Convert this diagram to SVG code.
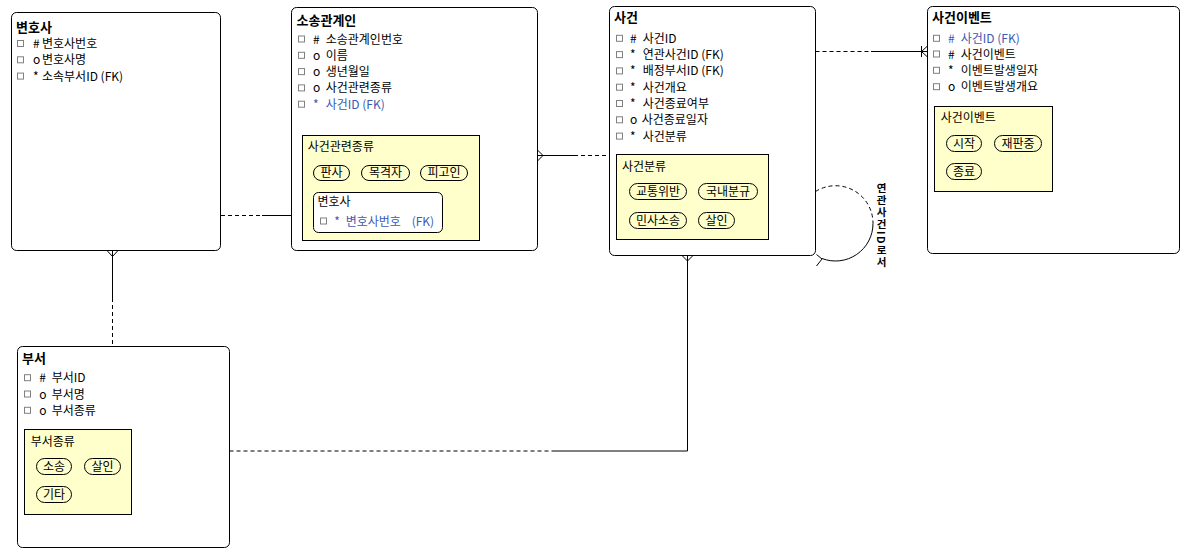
<svg xmlns="http://www.w3.org/2000/svg" width="1188" height="558" viewBox="0 0 1188 558">
<style>
text{font-family:"Noto Sans CJK KR","Noto Sans",sans-serif;font-size:12px;fill:#000}
.t{font-weight:bold;font-size:13px}
.fk{fill:#3C5AB4}
.box{fill:#fff;stroke:#000;stroke-width:1}
.yel{fill:#FFFFCC;stroke:#000;stroke-width:1}
.pill{fill:none;stroke:#000;stroke-width:1}
.cb{fill:#fff;stroke:#808080;stroke-width:1}
.ln{fill:none;stroke:#000;stroke-width:1}
.dash{stroke-dasharray:4,3}
.pt{text-anchor:middle}
.vt{writing-mode:vertical-rl;font-size:10.5px;font-weight:bold;letter-spacing:1.5px}
</style>
<rect width="1188" height="558" fill="#fff"/>
<g id="connectors">
  <path class="ln dash" d="M221,215.5 H262"/>
  <path class="ln" d="M262,215.5 H313.5 M313.5,210.5 L308,215.5 L313.5,220.5"/>
  <path class="ln" d="M537.5,150 L543,155.5 L537.5,161 M537.5,155.5 H574"/>
  <path class="ln dash" d="M574,155.5 H609.5"/>
  <path class="ln" d="M107,250.5 L112.5,256.5 L118,250.5 M112.5,250.5 V298"/>
  <path class="ln dash" d="M112.5,298 V346.5"/>
  <path class="ln dash" d="M229.5,451 H555"/>
  <path class="ln" d="M555,451 H687.5 V255.5 M682,255.5 L687.5,261 L693,255.5"/>
  <path class="ln dash" d="M815.5,51.5 H871"/>
  <path class="ln" d="M871,51.5 H927.5 M921.5,46 V57 M927.5,46 L921.5,51.5 L927.5,57"/>
  <path class="ln dash" d="M815.5,191.5 A37.5,37.5 0 0 1 873,223.5"/>
  <path class="ln" d="M873,223.5 A37.5,37.5 0 0 1 822,258.5 M816.5,254.5 L822,259 L816.5,266"/>
  <text class="vt" x="881.5" y="183">연관사건ID로서</text>
</g>
<g id="node-lawyer">
  <rect class="box" x="11.5" y="12.5" width="209" height="238" rx="5"/>
  <text class="t" x="16" y="31.5">변호사</text>
  <rect class="cb" x="17.5" y="40.5" width="6" height="6"/>
  <text x="33" y="48"># <tspan x="42">변호사번호</tspan></text>
  <rect class="cb" x="17.5" y="56.8" width="6" height="6"/>
  <text x="33" y="64.3">o <tspan x="42">변호사명</tspan></text>
  <rect class="cb" x="17.5" y="73.1" width="6" height="6"/>
  <text x="33" y="80.6">* <tspan x="42">소속부서ID (FK)</tspan></text>
</g>
<g id="node-party">
  <rect class="box" x="291.5" y="7.5" width="246" height="243" rx="5"/>
  <text class="t" x="296.5" y="25">소송관계인</text>
  <rect class="cb" x="298.5" y="36" width="6" height="6"/>
  <text x="313" y="43.5"># <tspan x="325.7">소송관계인번호</tspan></text>
  <rect class="cb" x="298.5" y="52.3" width="6" height="6"/>
  <text x="313" y="59.8">o <tspan x="325.7">이름</tspan></text>
  <rect class="cb" x="298.5" y="68.6" width="6" height="6"/>
  <text x="313" y="76.1">o <tspan x="325.7">생년월일</tspan></text>
  <rect class="cb" x="298.5" y="84.9" width="6" height="6"/>
  <text x="313" y="92.4">o <tspan x="325.7">사건관련종류</tspan></text>
  <rect class="cb" x="298.5" y="101.2" width="6" height="6"/>
  <text class="fk" x="313" y="108.7">* <tspan x="325.7">사건ID (FK)</tspan></text>
  <rect class="yel" x="302.5" y="135.5" width="177" height="105"/>
  <text x="307.7" y="151.2">사건관련종류</text>
  <rect class="pill" x="313.5" y="165.5" width="36" height="15" rx="7.5"/>
  <text class="pt" x="331.5" y="177.3">판사</text>
  <rect class="pill" x="361.5" y="165.5" width="48" height="15" rx="7.5"/>
  <text class="pt" x="385.5" y="177.3">목격자</text>
  <rect class="pill" x="420.5" y="165.5" width="47" height="15" rx="7.5"/>
  <text class="pt" x="444" y="177.3">피고인</text>
  <rect class="box" x="313.5" y="192.5" width="129" height="40" rx="5"/>
  <text x="317.5" y="206.2">변호사</text>
  <rect class="cb" x="320.5" y="218" width="6" height="6"/>
  <text class="fk" x="334.3" y="225.5">* <tspan x="345.7">변호사번호 </tspan><tspan x="411.7">(FK)</tspan></text>
</g>
<g id="node-case">
  <rect class="box" x="609.5" y="6.5" width="206" height="249" rx="5"/>
  <text class="t" x="614" y="22">사건</text>
  <rect class="cb" x="616.5" y="35.3" width="6" height="6"/>
  <text x="630" y="42.8"># <tspan x="642.7">사건ID</tspan></text>
  <rect class="cb" x="616.5" y="51.6" width="6" height="6"/>
  <text x="630" y="59.1">* <tspan x="642.7">연관사건ID (FK)</tspan></text>
  <rect class="cb" x="616.5" y="67.9" width="6" height="6"/>
  <text x="630" y="75.4">* <tspan x="642.7">배정부서ID (FK)</tspan></text>
  <rect class="cb" x="616.5" y="84.2" width="6" height="6"/>
  <text x="630" y="91.7">* <tspan x="642.7">사건개요</tspan></text>
  <rect class="cb" x="616.5" y="100.5" width="6" height="6"/>
  <text x="630" y="108">* <tspan x="642.7">사건종료여부</tspan></text>
  <rect class="cb" x="616.5" y="116.8" width="6" height="6"/>
  <text x="630" y="124.3">o <tspan x="641.7">사건종료일자</tspan></text>
  <rect class="cb" x="616.5" y="133.1" width="6" height="6"/>
  <text x="630" y="140.6">* <tspan x="642.7">사건분류</tspan></text>
  <rect class="yel" x="616.5" y="154.5" width="152" height="85"/>
  <text x="622" y="171.2">사건분류</text>
  <rect class="pill" x="629.5" y="183.5" width="57" height="16" rx="8"/>
  <text class="pt" x="658" y="196">교통위반</text>
  <rect class="pill" x="698.5" y="183.5" width="59" height="16" rx="8"/>
  <text class="pt" x="728" y="196">국내분규</text>
  <rect class="pill" x="629.5" y="212.5" width="57" height="16" rx="8"/>
  <text class="pt" x="658" y="225">민사소송</text>
  <rect class="pill" x="698.5" y="212.5" width="36" height="16" rx="8"/>
  <text class="pt" x="716.5" y="225">살인</text>
</g>
<g id="node-event">
  <rect class="box" x="927.5" y="6.5" width="252" height="247" rx="5"/>
  <text class="t" x="932" y="22">사건이벤트</text>
  <rect class="cb" x="933.5" y="35.3" width="6" height="6"/>
  <text class="fk" x="948" y="42.8"># <tspan x="960.7">사건ID (FK)</tspan></text>
  <rect class="cb" x="933.5" y="51" width="6" height="6"/>
  <text x="948" y="58.5"># <tspan x="960.7">사건이벤트</tspan></text>
  <rect class="cb" x="933.5" y="67.3" width="6" height="6"/>
  <text x="948" y="74.8">* <tspan x="960.7">이벤트발생일자</tspan></text>
  <rect class="cb" x="933.5" y="83.7" width="6" height="6"/>
  <text x="948" y="91.2">o <tspan x="960.7">이벤트발생개요</tspan></text>
  <rect class="yel" x="934.5" y="106.5" width="118" height="85"/>
  <text x="940.7" y="121.8">사건이벤트</text>
  <rect class="pill" x="946.5" y="135.5" width="35" height="16" rx="8"/>
  <text class="pt" x="964" y="148">시작</text>
  <rect class="pill" x="994.5" y="135.5" width="47" height="16" rx="8"/>
  <text class="pt" x="1018" y="148">재판중</text>
  <rect class="pill" x="946.5" y="163.5" width="35" height="16" rx="8"/>
  <text class="pt" x="964" y="176">종료</text>
</g>
<g id="node-dept">
  <rect class="box" x="17.5" y="346.5" width="212" height="201" rx="5"/>
  <text class="t" x="22" y="363">부서</text>
  <rect class="cb" x="24.5" y="374.7" width="6" height="6"/>
  <text x="39.3" y="382.2"># <tspan x="51.7">부서ID</tspan></text>
  <rect class="cb" x="24.5" y="391" width="6" height="6"/>
  <text x="39.3" y="398.5">o <tspan x="51.7">부서명</tspan></text>
  <rect class="cb" x="24.5" y="407.3" width="6" height="6"/>
  <text x="39.3" y="414.8">o <tspan x="51.7">부서종류</tspan></text>
  <rect class="yel" x="24.5" y="429.5" width="107" height="85"/>
  <text x="30.7" y="445.5">부서종류</text>
  <rect class="pill" x="36.5" y="458.5" width="35" height="16" rx="8"/>
  <text class="pt" x="54" y="471">소송</text>
  <rect class="pill" x="84.5" y="458.5" width="36" height="16" rx="8"/>
  <text class="pt" x="102.5" y="471">살인</text>
  <rect class="pill" x="36.5" y="486.5" width="35" height="16" rx="8"/>
  <text class="pt" x="54" y="499">기타</text>
</g>
</svg>
